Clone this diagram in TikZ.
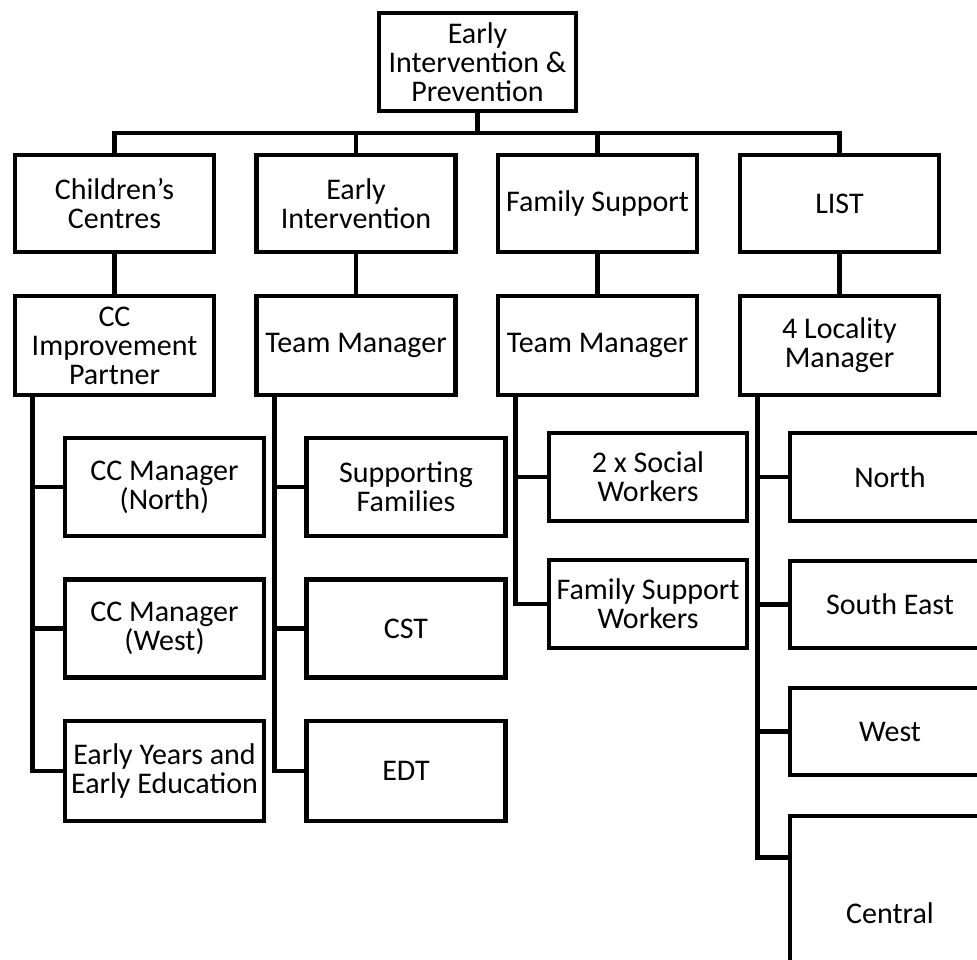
\documentclass[tikz,border=0pt]{standalone}
\usepackage{fontspec}
\setmainfont{Carlito}
\begin{document}
\begin{tikzpicture}[x=1pt,y=-1pt,
  box/.style={draw=black, line width=4.6pt, inner sep=0pt, align=center,
    font=\fontsize{30}{29}\selectfont, line join=miter, fill=white},
  wide/.style={box, minimum width=199pt, minimum height=98pt},
  tall/.style={box, minimum width=199pt, minimum height=88pt},
  conn/.style={line width=4.6pt, line join=miter}]
\useasboundingbox (0,0) rectangle (977,960);
\clip (0,0) rectangle (977,960);
% top
\node[box, minimum width=197pt, minimum height=98pt] (top) at (477.5,62) {Early\\Intervention \&\\Prevention};
% level 1
\node[wide, minimum height=97pt] (a1) at (114.5,203.5) {Children’s\\Centres};
\node[wide, minimum height=97pt] (b1) at (356,203.5) {Early\\Intervention};
\node[wide, minimum height=97pt] (c1) at (597.5,203.5) {Family Support};
\node[wide, minimum height=97pt] (d1) at (839.5,203.5) {LIST};
% level 2
\node[wide, minimum height=99pt] (a2) at (114.5,345.5) {CC\\Improvement\\Partner};
\node[wide, minimum height=99pt] (b2) at (356,345.5) {Team Manager};
\node[wide, minimum height=99pt] (c2) at (597.5,345.5) {Team Manager};
\node[wide, minimum height=99pt] (d2) at (839.5,345.5) {4 Locality\\Manager};
% level 3 column a
\node[wide] (a3) at (164.5,487) {CC Manager\\(North)};
\node[wide] (a4) at (164.5,628.5) {CC Manager\\(West)};
\node[wide, minimum height=100pt] (a5) at (164.5,771) {Early Years and\\Early Education};
% column b
\node[wide] (b3) at (406,487) {Supporting\\Families};
\node[wide] (b4) at (406,628.5) {CST};
\node[wide, minimum height=100pt] (b5) at (406,771) {EDT};
% column c
\node[tall, minimum width=198pt] (c3) at (648,477) {2 x Social\\Workers};
\node[tall, minimum width=198pt] (c4) at (648,604) {Family Support\\Workers};
% column d
\node[tall, minimum width=200pt] (d3) at (890,477) {North};
\node[tall, minimum width=200pt, minimum height=87pt] (d4) at (890,604.5) {South East};
\node[tall, minimum width=200pt, minimum height=87pt] (d5) at (890,731.5) {West};
\node[box, minimum width=200pt, minimum height=194pt] (d6) at (890,913) {Central};
% connectors
\coordinate (bus) at (0,133);
\draw[conn] (top.south) -- (top.south |- bus);
\draw[conn] (a1.north) -- (a1.north |- bus) -- (d1.north |- bus) -- (d1.north);
\draw[conn] (b1.north) -- (b1.north |- bus);
\draw[conn] (c1.north) -- (c1.north |- bus);
\foreach \k in {a,b,c,d} {
  \draw[conn] (\k1.south) -- (\k2.north);
  \coordinate (\k s) at ([xshift=20pt]\k2.south west);
}
\coordinate (d6t) at ([yshift=-44pt]d6.north west);
\draw[conn] (as) |- (a5.west);
\draw[conn] (as |- a3.west) -- (a3.west);
\draw[conn] (as |- a4.west) -- (a4.west);
\draw[conn] (bs) |- (b5.west);
\draw[conn] (bs |- b3.west) -- (b3.west);
\draw[conn] (bs |- b4.west) -- (b4.west);
\draw[conn] (cs) |- (c4.west);
\draw[conn] (cs |- c3.west) -- (c3.west);
\draw[conn] (ds) |- (d6t);
\draw[conn] (ds |- d3.west) -- (d3.west);
\draw[conn] (ds |- d4.west) -- (d4.west);
\draw[conn] (ds |- d5.west) -- (d5.west);
\end{tikzpicture}
\end{document}
